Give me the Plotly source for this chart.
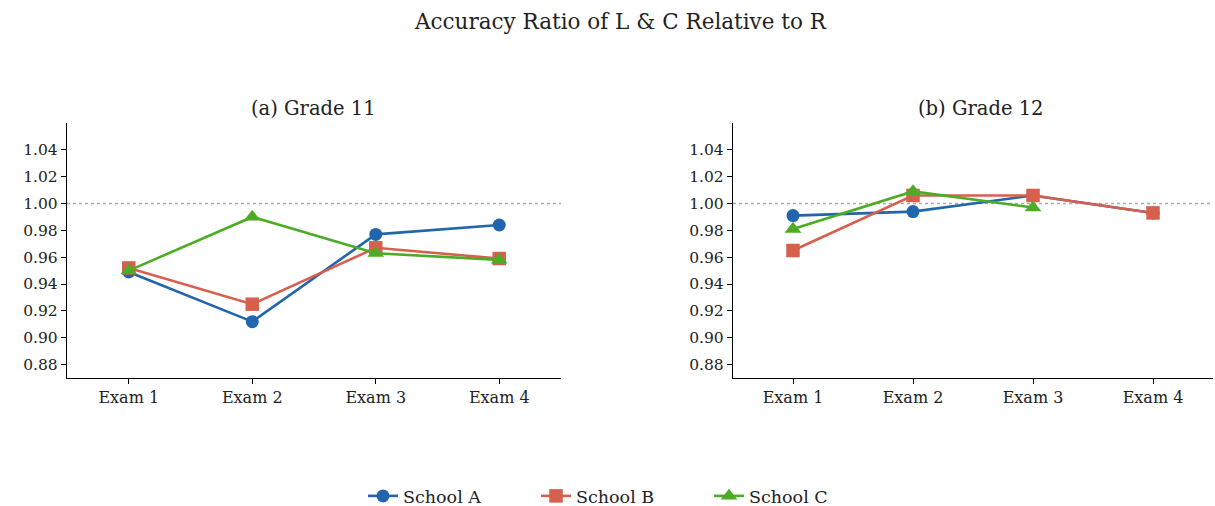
import plotly.graph_objects as go

exams = ["Exam 1", "Exam 2", "Exam 3", "Exam 4"]
schools = ["School A", "School B", "School C"]

g11_a = [0.949, 0.912, 0.977, 0.984]
g11_b = [0.952, 0.925, 0.967, 0.959]
g11_c = [0.950, 0.990, 0.963, 0.958]

g12_a = [0.991, 0.994, 1.006, 0.993]
g12_b = [0.965, 1.006, 1.006, 0.993]
g12_c = [0.981, 1.009, 0.997, None]

y_ticks = [0.88, 0.90, 0.92, 0.94, 0.96, 0.98, 1.00, 1.02, 1.04]
y_tick_text = ["%.2f" % v for v in y_ticks]

colors = ["#2166ac", "#d6604d", "#4dac26"]
symbols = ["circle", "square", "triangle-up"]
sizes = [13, 13.5, 14.5]
FONT = "DejaVu Serif"
H = 506

fig = go.Figure()
data = [(g11_a, g11_b, g11_c), (g12_a, g12_b, g12_c)]
for p, series in enumerate(data):
    xa = "x" if p == 0 else "x2"
    ya = "y" if p == 0 else "y2"
    for i, vals in enumerate(series):
        fig.add_trace(go.Scatter(
            x=exams, y=vals, mode="lines+markers", name=schools[i],
            xaxis=xa, yaxis=ya, showlegend=(p == 0),
            line=dict(color=colors[i], width=2.6),
            marker=dict(symbol=symbols[i], size=sizes[i], color=colors[i]),
            legendgroup=schools[i],
        ))

axis_common = dict(
    showline=True, linecolor="black", linewidth=1.4, ticks="outside",
    tickcolor="black", ticklen=5, tickwidth=1.4, showgrid=False, zeroline=False,
    automargin=False,
)
xfont = dict(family=FONT, size=16, color="#222")
yfont = dict(family=FONT, size=15.5, color="#222")
fig.update_layout(
    width=1215, height=H,
    margin=dict(l=0, r=0, t=0, b=0, autoexpand=False),
    paper_bgcolor="white", plot_bgcolor="white",
    font=dict(family=FONT, color="#222"),
    xaxis=dict(domain=[67/1215, 561/1215], range=[-0.5, 3.5], anchor="y",
               tickfont=xfont, **axis_common),
    yaxis=dict(domain=[1-378/H, 1-123/H], range=[0.87, 1.06], anchor="x",
               tickvals=y_ticks, ticktext=y_tick_text, tickfont=yfont, **axis_common),
    xaxis2=dict(domain=[733/1215, 1213/1215], range=[-0.5, 3.5], anchor="y2",
                tickfont=xfont, **axis_common),
    yaxis2=dict(domain=[1-378/H, 1-123/H], range=[0.87, 1.06], anchor="x2",
                tickvals=y_ticks, ticktext=y_tick_text, tickfont=yfont, **axis_common),
    legend=dict(orientation="h", x=0.5 + 15/1215, xanchor="center", y=1-496/H, yanchor="middle",
                font=dict(family=FONT, size=17.5, color="#222"), entrywidth=128),
    showlegend=True,
)
for ax in ["x", "x2"]:
    fig.add_shape(type="line", xref=ax + " domain", yref=ax.replace("x", "y"),
                  x0=0, x1=1, y0=1.0, y1=1.0,
                  line=dict(color="#aaaaaa", width=1.5, dash="dot"), layer="below")

fig.add_annotation(text="Accuracy Ratio of L & C Relative to R", xref="paper", yref="paper",
                   x=620/1215, y=1-22/H, xanchor="center", yanchor="middle", showarrow=False,
                   font=dict(family=FONT, size=21.5, color="#222"))
fig.add_annotation(text="(a) Grade 11", xref="paper", yref="paper",
                   x=313/1215, y=1-108/H, xanchor="center", yanchor="middle",
                   showarrow=False, font=dict(family=FONT, size=19.5, color="#222"))
fig.add_annotation(text="(b) Grade 12", xref="paper", yref="paper",
                   x=980/1215, y=1-108/H, xanchor="center", yanchor="middle",
                   showarrow=False, font=dict(family=FONT, size=19.5, color="#222"))

fig.write_html("out.html", config={"responsive": False})
